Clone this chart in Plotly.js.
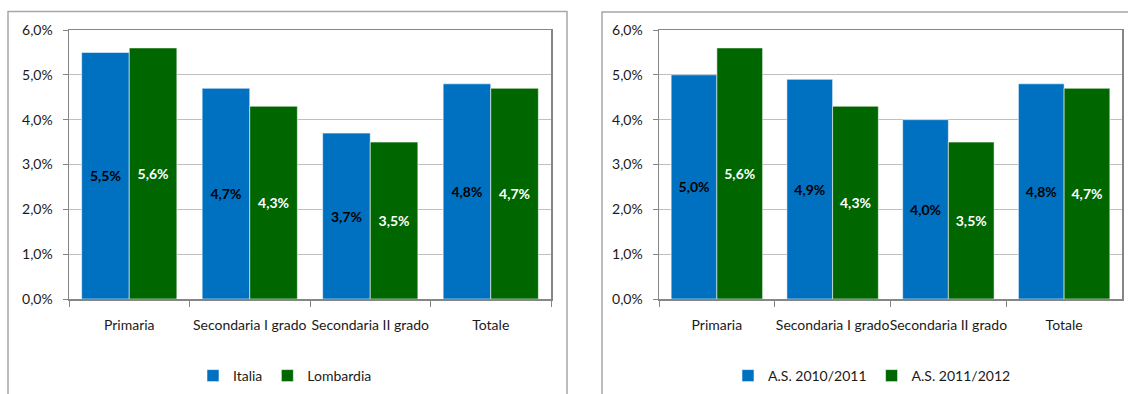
<!DOCTYPE html>
<html>
<head>
<meta charset="utf-8">
<script src="https://cdn.plot.ly/plotly-3.0.1.min.js"></script>
<style>
html,body{margin:0;padding:0;background:#fff;}
#chart{width:1128px;height:394px;}
</style>
</head>
<body>
<div id="chart"></div>
<script>
const categories = ["Primaria", "Secondaria I grado", "Secondaria II grado", "Totale"];
const leftSeriesNames = ["Italia", "Lombardia"];
const italia = [5.5, 4.7, 3.7, 4.8];
const lombardia = [5.6, 4.3, 3.5, 4.7];
const rightSeriesNames = ["A.S. 2010/2011", "A.S. 2011/2012"];
const as2010 = [5.0, 4.9, 4.0, 4.8];
const as2011 = [5.6, 4.3, 3.5, 4.7];
const yTicks = [0, 1, 2, 3, 4, 5, 6];

const BLUE = "#0070C0";
const GREEN = "#006600";
const FONT = "Lato, 'Open Sans', sans-serif";

function barTrace(name, y, color, textColor, xa, ya, legend) {
  return {
    type: "bar", name: name, x: categories, y: y,
    xaxis: xa, yaxis: ya, legend: legend,
    marker: {color: color, line: {color: "rgba(255,255,255,0.55)", width: 1}},
    texttemplate: "%{y:.1f}%", textposition: "inside", insidetextanchor: "middle",
    textangle: 0,
    textfont: {family: FONT, size: 14, color: textColor, weight: "bold"},
    hoverinfo: "skip"
  };
}

const data = [
  barTrace(leftSeriesNames[0], italia, BLUE, "#000000", "x", "y", "legend"),
  barTrace(leftSeriesNames[1], lombardia, GREEN, "#ffffff", "x", "y", "legend"),
  barTrace(rightSeriesNames[0], as2010, BLUE, "#000000", "x2", "y2", "legend2"),
  barTrace(rightSeriesNames[1], as2011, GREEN, "#ffffff", "x2", "y2", "legend2")
];

function xAxis(domain, anchor) {
  return {
    domain: domain, anchor: anchor, type: "category",
    showline: true, linecolor: "#868686", linewidth: 1.5, mirror: true,
    ticks: "outside", tickson: "boundaries", ticklen: 6, tickcolor: "#868686",
    tickangle: 0, ticklabelstandoff: 13,
    showgrid: false, fixedrange: true,
    tickfont: {family: FONT, size: 14, color: "#1a1a1a"}
  };
}
function yAxis(domain, anchor) {
  return {
    domain: domain, anchor: anchor, range: [0, 6],
    tickvals: yTicks, ticktext: yTicks.map(v => v.toFixed(1).replace(".", ",") + "%"),
    showline: true, linecolor: "#868686", linewidth: 1.5, mirror: true,
    ticks: "outside", ticklen: 5, tickcolor: "#868686",
    ticklabelstandoff: 7,
    showgrid: true, gridcolor: "#BFBFBF", gridwidth: 1,
    zeroline: false, fixedrange: true,
    tickfont: {family: FONT, size: 14, color: "#1a1a1a"}
  };
}

const yDom = [1 - 299/394, 1 - 30/394];
const layout = {
  width: 1128, height: 394,
  margin: {l: 0, r: 0, t: 0, b: 0},
  paper_bgcolor: "#ffffff", plot_bgcolor: "#ffffff",
  separators: ",.",
  barmode: "group", bargap: 0.21, bargroupgap: 0,
  font: {family: FONT, size: 14, color: "#1a1a1a"},
  xaxis: xAxis([69/1128, 551/1128], "y"),
  yaxis: yAxis(yDom, "x"),
  xaxis2: xAxis([659/1128, 1122/1128], "y2"),
  yaxis2: yAxis(yDom, "x2"),
  legend: {orientation: "h", x: 285/1128, xanchor: "center", y: 1 - 376/394, yanchor: "middle",
           font: {family: FONT, size: 14, color: "#1a1a1a"}, itemwidth: 30, tracegroupgap: 0},
  legend2: {orientation: "h", x: 872/1128, xanchor: "center", y: 1 - 376/394, yanchor: "middle",
           font: {family: FONT, size: 14, color: "#1a1a1a"}, itemwidth: 30, tracegroupgap: 0},
  shapes: [
    {type: "rect", xref: "paper", yref: "paper", x0: 8/1128, x1: 567/1128, y0: -0.05, y1: 1 - 11.5/394,
     line: {color: "#A6A6A6", width: 1.5}, fillcolor: "rgba(0,0,0,0)", layer: "below"},
    {type: "rect", xref: "paper", yref: "paper", x0: 602/1128, x1: 1.05, y0: -0.05, y1: 1 - 12/394,
     line: {color: "#A6A6A6", width: 1.5}, fillcolor: "rgba(0,0,0,0)", layer: "below"}
  ]
};

Plotly.newPlot("chart", data, layout, {staticPlot: true, displayModeBar: false});
</script>
</body>
</html>
